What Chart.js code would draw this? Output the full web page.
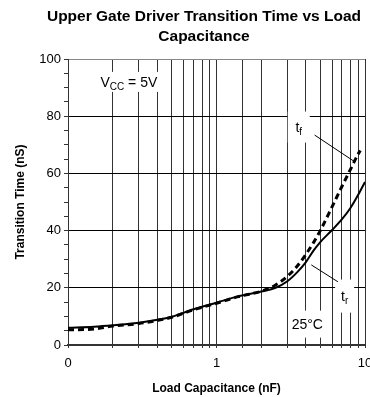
<!DOCTYPE html>
<html>
<head>
<meta charset="utf-8">
<script src="https://cdn.jsdelivr.net/npm/chart.js@4.4.0/dist/chart.umd.min.js"></script>
<style>
  html, body { margin: 0; padding: 0; background: #fff; }
</style>
</head>
<body>
<canvas id="chart" width="370" height="397"></canvas>
<script>
// Load capacitance (nF) for each curve
const riseCap = [0.1, 0.15, 0.2, 0.3, 0.4, 0.5, 0.7, 1, 1.4, 2, 2.5, 3, 3.5, 4, 4.5, 5, 6, 7, 8, 9, 10];
const riseTime = [6.0, 6.4, 6.9, 7.8, 8.8, 9.9, 12.5, 14.8, 17.0, 18.7, 20.0, 22.3, 25.5, 29.0, 33.0, 36.0, 40.2, 44, 48, 52.5, 57];

const fallCap = [0.1, 0.15, 0.2, 0.3, 0.4, 0.5, 0.7, 1, 1.4, 2, 2.5, 3, 3.5, 4, 4.5, 5, 6, 7, 8, 9, 9.3];
const fallTime = [5.3, 5.6, 6.6, 7.5, 8.6, 9.7, 12.3, 14.6, 16.9, 18.8, 21.0, 24.0, 27.6, 31.7, 35.8, 40.0, 48.3, 55.5, 61.5, 66.8, 68];

// Axis labels
const xTickValues = [0.1, 1, 10];
const xTickLabels = ['0', '1', '10'];
const yTickLabelStep = 20;

const titleLines = ['Upper Gate Driver Transition Time vs Load', 'Capacitance'];

// Text notes in data coordinates
const notes = [
  { main: 'V', sub: 'CC', rest: ' = 5V', x: 0.257, y: 92, w: 66, h: 20 },
  { main: 't', sub: 'f', rest: '', x: 3.58, y: 76.2, w: 22, h: 31 },
  { main: 't', sub: 'r', rest: '', x: 7.29, y: 17.1, w: 19, h: 33 },
  { main: '25°C', sub: '', rest: '', x: 4.09, y: 7.3, w: 35, h: 27 }
];
const leaders = [
  [[4.58, 73.4], [8.51, 64.1]],
  [[4.35, 28.0], [6.57, 22.1]]
];

const FONT = "'Liberation Sans', Arial, sans-serif";
Chart.defaults.font.family = FONT;
Chart.defaults.color = '#000';

const toPoints = (xs, ys) => xs.map((x, i) => ({ x: x, y: ys[i] }));

// Chart title
const titlePlugin = {
  id: 'titleText',
  afterDraw(chart) {
    const ctx = chart.ctx;
    ctx.save();
    ctx.font = 'bold 15.5px ' + FONT;
    ctx.fillStyle = '#000';
    ctx.textAlign = 'center';
    ctx.textBaseline = 'alphabetic';
    titleLines.forEach((line, i) => ctx.fillText(line, 204, 21 + i * 20));
    ctx.restore();
  }
};

// White-boxed labels and leader lines
const notesPlugin = {
  id: 'notes',
  beforeDatasetsDraw(chart) {
    const { ctx, scales: { x, y } } = chart;
    ctx.save();
    ctx.fillStyle = '#fff';
    notes.forEach(n => {
      const cx = x.getPixelForValue(n.x);
      const cy = y.getPixelForValue(n.y);
      ctx.fillRect(cx - n.w / 2, cy - n.h / 2, n.w, n.h);
    });
    ctx.restore();
  },
  afterDatasetsDraw(chart) {
    const { ctx, scales: { x, y } } = chart;
    ctx.save();
    ctx.strokeStyle = '#000';
    ctx.lineWidth = 1;
    leaders.forEach(([a, b]) => {
      ctx.beginPath();
      ctx.moveTo(x.getPixelForValue(a[0]), y.getPixelForValue(a[1]));
      ctx.lineTo(x.getPixelForValue(b[0]), y.getPixelForValue(b[1]));
      ctx.stroke();
    });

    ctx.fillStyle = '#000';
    ctx.textBaseline = 'alphabetic';
    ctx.textAlign = 'left';
    notes.forEach(n => {
      const big = 'px ' + FONT;
      ctx.font = '14' + big;
      const w1 = ctx.measureText(n.main).width;
      const w3 = ctx.measureText(n.rest).width;
      ctx.font = '10' + big;
      const w2 = ctx.measureText(n.sub).width;
      const cx = x.getPixelForValue(n.x);
      const cy = y.getPixelForValue(n.y);
      let px = cx - (w1 + w2 + w3) / 2;
      const base = cy + 5;
      ctx.font = '14' + big;
      ctx.fillText(n.main, px, base);
      px += w1;
      ctx.font = '10' + big;
      ctx.fillText(n.sub, px, base + 3);
      px += w2;
      ctx.font = '14' + big;
      ctx.fillText(n.rest, px, base);
    });
    ctx.restore();
  }
};

new Chart(document.getElementById('chart'), {
  type: 'line',
  data: {
    datasets: [
      {
        label: 'tr',
        data: toPoints(riseCap, riseTime),
        borderColor: '#000',
        borderWidth: 2,
        pointRadius: 0,
        cubicInterpolationMode: 'monotone',
        fill: false
      },
      {
        label: 'tf',
        data: toPoints(fallCap, fallTime),
        borderColor: '#000',
        borderWidth: 3,
        borderDash: [6, 4],
        pointRadius: 0,
        cubicInterpolationMode: 'monotone',
        fill: false
      }
    ]
  },
  options: {
    responsive: false,
    animation: false,
    devicePixelRatio: 1,
    layout: { padding: { top: 59, right: 5, left: 0, bottom: 0 } },
    plugins: {
      legend: { display: false },
      title: { display: false },
      tooltip: { enabled: false }
    },
    scales: {
      x: {
        type: 'logarithmic',
        min: 0.1,
        max: 10,
        afterFit(scale) {
          scale.height = 52;
          scale.paddingLeft = 0;
          scale.paddingRight = 0;
        },
        border: { color: '#333', width: 2 },
        grid: { color: '#333', lineWidth: 1, tickLength: 3 },
        ticks: {
          autoSkip: false,
          maxRotation: 0,
          padding: 8,
          font: { size: 13 },
          callback(value) {
            const i = xTickValues.findIndex(v => Math.abs(v - value) < 1e-9);
            return i >= 0 ? xTickLabels[i] : '';
          }
        },
        title: {
          display: true,
          text: 'Load Capacitance (nF)',
          font: { size: 12, weight: 'bold' },
          padding: { top: 0, bottom: 1 }
        }
      },
      y: {
        min: 0,
        max: 100,
        afterFit(scale) {
          scale.width = 68;
          scale.paddingTop = 0;
          scale.paddingBottom = 0;
        },
        border: { color: '#333', width: 1 },
        grid: {
          color: ctx => (ctx.tick && ctx.tick.value % yTickLabelStep === 0)
            ? (ctx.tick.value === 100 ? '#888' : '#000') : 'rgba(0,0,0,0)',
          tickColor: '#333',
          tickLength: 4
        },
        ticks: {
          stepSize: 5,
          autoSkip: false,
          padding: 3,
          font: { size: 13 },
          callback: v => (v % yTickLabelStep === 0 ? v : '')
        },
        title: {
          display: true,
          text: 'Transition Time (nS)',
          font: { size: 12, weight: 'bold' },
          padding: { top: 13, bottom: 0 }
        }
      }
    }
  },
  plugins: [titlePlugin, notesPlugin]
});
</script>
</body>
</html>
